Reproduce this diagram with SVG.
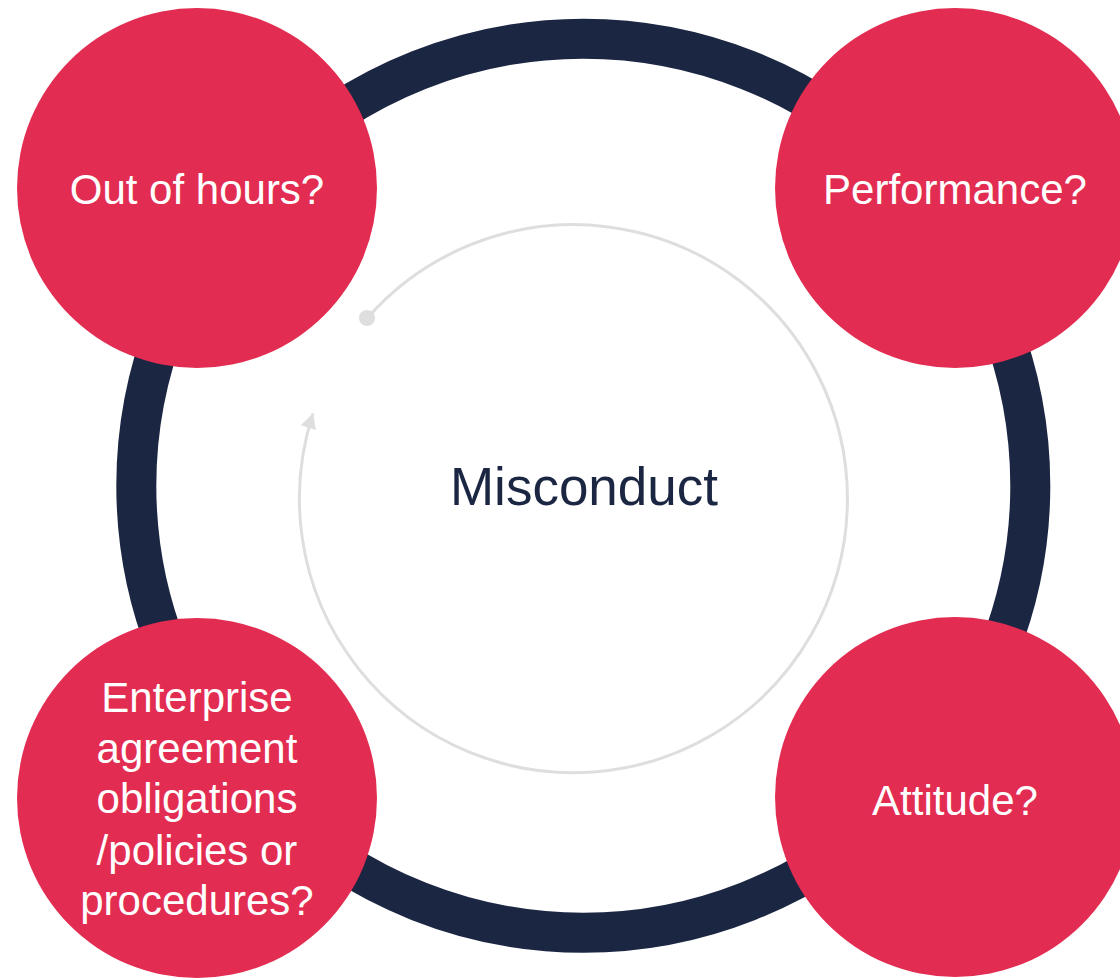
<svg xmlns="http://www.w3.org/2000/svg" width="1120" height="980" viewBox="0 0 1120 980">
<style>
.bubble{fill:#E32C51}
.lbl{fill:#FFFFFF;font-family:"Liberation Sans",Arial,sans-serif;font-size:42px;text-anchor:middle}
.center{fill:#1B2642;font-family:"Liberation Sans",Arial,sans-serif;font-size:53px;text-anchor:middle}
</style>
<defs>
<marker id="arrow" markerUnits="userSpaceOnUse" markerWidth="18" markerHeight="18" refX="15" refY="8" orient="auto">
<path d="M0,0 L15,8 L0,16 Z" fill="#DEDEDE"/>
</marker>
</defs>
<rect width="1120" height="980" fill="#FFFFFF"/>
<g id="ring">
<circle cx="583.3" cy="485.7" r="447" fill="none" stroke="#1B2642" stroke-width="40"/>
</g>
<g id="connectors">
<path d="M 367 318.5 A 274 274 0 1 1 313 413.5" fill="none" stroke="#DEDEDE" stroke-width="3" marker-end="url(#arrow)"/>
<circle cx="367" cy="318" r="8" fill="#DEDEDE"/>
</g>
<g id="center-label">
<text class="center" x="584" y="505">Misconduct</text>
</g>
<g id="node-out-of-hours">
<circle class="bubble" cx="197" cy="188" r="180"/>
<text class="lbl" x="197" y="204">Out of hours?</text>
</g>
<g id="node-performance">
<circle class="bubble" cx="955" cy="188" r="180"/>
<text class="lbl" x="955" y="204">Performance?</text>
</g>
<g id="node-enterprise">
<circle class="bubble" cx="197" cy="798" r="180"/>
<text class="lbl" x="197" y="712">Enterprise</text>
<text class="lbl" x="197" y="763">agreement</text>
<text class="lbl" x="197" y="813">obligations</text>
<text class="lbl" x="197" y="865">/policies or</text>
<text class="lbl" x="197" y="915">procedures?</text>
</g>
<g id="node-attitude">
<circle class="bubble" cx="955" cy="797" r="180"/>
<text class="lbl" x="955" y="815">Attitude?</text>
</g>
</svg>
